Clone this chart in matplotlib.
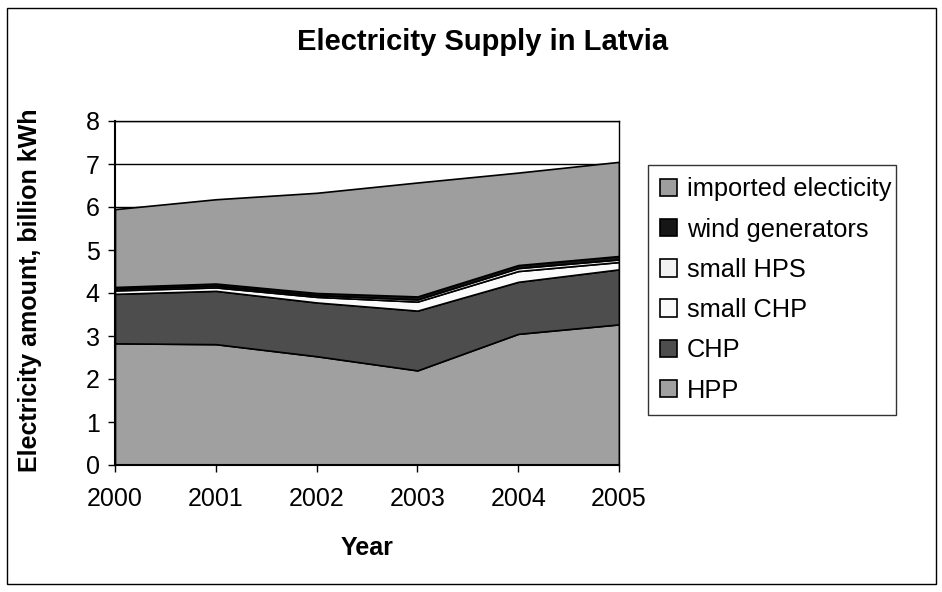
import numpy as np
import matplotlib.pyplot as plt
from matplotlib.patches import Rectangle

# Data (billion kWh)
years = [2000, 2001, 2002, 2003, 2004, 2005]
hpp = [2.83, 2.81, 2.53, 2.20, 3.05, 3.27]
chp = [1.15, 1.24, 1.25, 1.39, 1.21, 1.28]
small_chp = [0.08, 0.08, 0.13, 0.21, 0.25, 0.17]
small_hps = [0.04, 0.04, 0.04, 0.05, 0.07, 0.06]
wind = [0.04, 0.05, 0.05, 0.07, 0.07, 0.08]
imported = [1.81, 1.96, 2.33, 2.65, 2.15, 2.19]

labels = ['HPP', 'CHP', 'small CHP', 'small HPS', 'wind generators', 'imported electicity']
colors = ['#a0a0a0', '#4d4d4d', '#fafafa', '#f2f2f2', '#161616', '#9e9e9e']

plt.rcParams['font.family'] = ['Liberation Sans', 'DejaVu Sans']

fig = plt.figure(figsize=(9.42, 5.92), dpi=100)
ax = fig.add_axes([115 / 942, 1 - 465 / 592, 504 / 942, 344 / 592])

# Outer chart border
fig.patches.append(Rectangle((7 / 942, 8 / 592), 929 / 942, 576 / 592,
                             transform=fig.transFigure, fill=False,
                             edgecolor='black', linewidth=1.0))

polys = ax.stackplot(years, hpp, chp, small_chp, small_hps, wind, imported,
                     colors=colors, labels=labels, edgecolor='black', linewidth=1.2)

ax.set_xlim(2000, 2005)
ax.set_ylim(0, 8)
ax.set_yticks(range(0, 9))
ax.set_xticks(years)
ax.yaxis.grid(True, color='black', linewidth=1.0)
ax.set_axisbelow(True)

for s in ax.spines.values():
    s.set_color('black')
    s.set_linewidth(1.0)
ax.spines['left'].set_linewidth(1.5)
ax.spines['bottom'].set_linewidth(1.5)

ax.tick_params(axis='both', direction='out', length=5, width=1, labelsize=18)
ax.tick_params(axis='x', pad=11)
ax.tick_params(axis='y', pad=6)

fig.text(483 / 942, 1 - 42 / 592, 'Electricity Supply in Latvia',
         fontsize=21, fontweight='bold', ha='center', va='center')
ax.set_xlabel('Year', fontsize=18, fontweight='bold')
ax.set_ylabel('Electricity amount, billion kWh', fontsize=18, fontweight='bold')
ax.xaxis.set_label_coords(367 / 942, 1 - 548 / 592, transform=fig.transFigure)
ax.yaxis.set_label_coords(30 / 942, 1 - 290 / 592, transform=fig.transFigure)
ax.xaxis.label.set_va('center')
ax.yaxis.label.set_va('center')

handles, labs = ax.get_legend_handles_labels()
leg = ax.legend(handles[::-1], labs[::-1], loc='center left',
                bbox_to_anchor=(648 / 942, 1 - 416 / 592, 248 / 942, 252 / 592),
                bbox_transform=fig.transFigure, mode='expand',
                fontsize=18.3, frameon=True, fancybox=False, edgecolor='black',
                handlelength=0.68, handleheight=0.68, handletextpad=0.36,
                labelspacing=0.64, borderpad=0.48, borderaxespad=0)
leg.get_frame().set_linewidth(1.0)

fig.savefig('out.png', dpi=100)
